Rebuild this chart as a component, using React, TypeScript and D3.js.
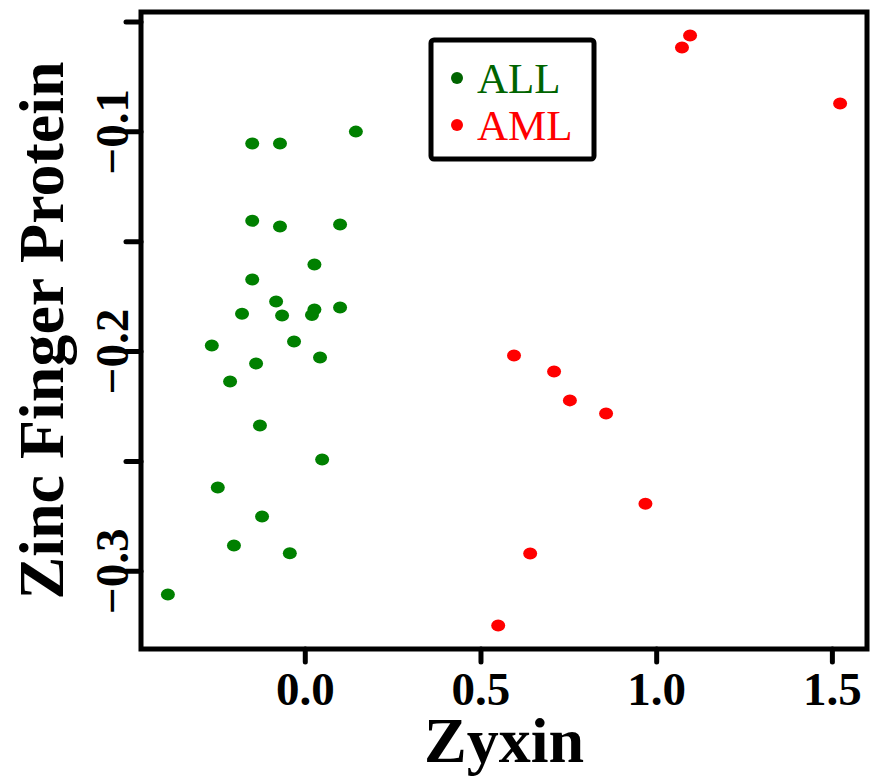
import React, { useEffect, useRef } from 'react';
import * as d3 from 'd3';

// Zyxin vs Zinc Finger Protein expression, two leukemia classes
const allZyxin = [
  -0.151, -0.072, 0.144, -0.151, -0.072, 0.099, 0.026, -0.151, -0.083, -0.18,
  -0.066, 0.026, 0.019, 0.099, -0.032, -0.266, 0.042, -0.14, -0.214, -0.129,
  0.048, -0.249, -0.123, -0.203, -0.044, -0.391,
];
const allZinc = [
  -0.1053, -0.1053, -0.0999, -0.1405, -0.1431, -0.1422, -0.1604, -0.1672, -0.1772, -0.1828,
  -0.1836, -0.1808, -0.1833, -0.1799, -0.1954, -0.1972, -0.2027, -0.2054, -0.2136, -0.2336,
  -0.2491, -0.2618, -0.275, -0.2882, -0.2918, -0.3105,
];
const amlZyxin = [1.095, 1.072, 1.522, 0.594, 0.708, 0.753, 0.856, 0.968, 0.64, 0.549];
const amlZinc = [-0.0562, -0.0616, -0.0871, -0.2018, -0.2091, -0.2222, -0.2282, -0.2692, -0.2919, -0.3246];

const groups = ['ALL', 'AML'];
const xTicks = [0, 0.5, 1.0, 1.5];
const yTicks = [-0.3, -0.25, -0.2, -0.15, -0.1, -0.05];
const yTickLabels = [-0.3, -0.2, -0.1];

const pointColor: Record<string, string> = { ALL: '#008000', AML: '#ff0000' };
const legendColor: Record<string, string> = { ALL: '#006400', AML: '#ff0000' };

const App = () => {
  const ref = useRef<SVGSVGElement | null>(null);

  useEffect(() => {
    const svg = d3.select(ref.current);
    svg.selectAll('*').remove();

    const points = [
      ...allZyxin.map((v, i) => ({ x: v, y: allZinc[i], g: 'ALL' })),
      ...amlZyxin.map((v, i) => ({ x: v, y: amlZinc[i], g: 'AML' })),
    ];

    // R style 4% extension of data range
    const pad = (ext: [number, number]) => {
      const d = (ext[1] - ext[0]) * 0.04;
      return [ext[0] - d, ext[1] + d];
    };
    const xExt = d3.extent(points, d => d.x) as [number, number];
    const yExt = d3.extent(points, d => d.y) as [number, number];

    const left = 141, right = 867, top = 12, bottom = 649;
    const x = d3.scaleLinear().domain(pad(xExt)).range([left, right]);
    const y = d3.scaleLinear().domain(pad(yExt)).range([bottom, top]);

    const font = '"Liberation Serif", "Times New Roman", serif';

    // points
    svg.append('g')
      .selectAll('ellipse')
      .data(points)
      .enter().append('ellipse')
      .attr('cx', d => x(d.x))
      .attr('cy', d => y(d.y))
      .attr('rx', 7)
      .attr('ry', 6)
      .attr('fill', d => pointColor[d.g]);

    // frame
    svg.append('rect')
      .attr('x', left)
      .attr('y', top)
      .attr('width', right - left)
      .attr('height', bottom - top)
      .attr('fill', 'none')
      .attr('stroke', '#000')
      .attr('stroke-width', 5);

    // x axis
    const xa = svg.append('g');
    xa.selectAll('line')
      .data(xTicks)
      .enter().append('line')
      .attr('x1', d => x(d)).attr('x2', d => x(d))
      .attr('y1', bottom).attr('y2', bottom + 13)
      .attr('stroke', '#000').attr('stroke-width', 5).attr('stroke-linecap', 'round');
    xa.selectAll('text')
      .data(xTicks)
      .enter().append('text')
      .attr('x', d => x(d))
      .attr('y', 705)
      .attr('text-anchor', 'middle')
      .style('font-family', font)
      .style('font-weight', 'bold')
      .style('font-size', '47px')
      .text(d => d3.format('.1f')(d));

    // y axis
    const ya = svg.append('g');
    ya.selectAll('line')
      .data(yTicks)
      .enter().append('line')
      .attr('x1', left - 15).attr('x2', left)
      .attr('y1', d => y(d)).attr('y2', d => y(d))
      .attr('stroke', '#000').attr('stroke-width', 5).attr('stroke-linecap', 'round');
    ya.selectAll('text')
      .data(yTickLabels)
      .enter().append('text')
      .attr('transform', d => `translate(128, ${y(d)}) rotate(-90)`)
      .attr('text-anchor', 'middle')
      .style('font-family', font)
      .style('font-weight', 'bold')
      .style('font-size', '47px')
      .text(d => d3.format('.1f')(d));

    // titles
    svg.append('text')
      .attr('x', (left + right) / 2)
      .attr('y', 762)
      .attr('text-anchor', 'middle')
      .style('font-family', font)
      .style('font-weight', 'bold')
      .style('font-size', '64px')
      .text('Zyxin');

    svg.append('text')
      .attr('transform', `translate(63, ${(top + bottom) / 2}) rotate(-90)`)
      .attr('text-anchor', 'middle')
      .style('font-family', font)
      .style('font-weight', 'bold')
      .style('font-size', '64px')
      .text('Zinc Finger Protein');

    // legend
    const lg = svg.append('g');
    lg.append('rect')
      .attr('x', 431).attr('y', 40)
      .attr('width', 163).attr('height', 119)
      .attr('rx', 3)
      .attr('fill', '#fff')
      .attr('stroke', '#000')
      .attr('stroke-width', 5);
    const items = lg.selectAll('g')
      .data(groups)
      .enter().append('g')
      .attr('transform', (d, i) => `translate(0, ${i * 47})`);
    items.append('circle')
      .attr('cx', 457)
      .attr('cy', 78)
      .attr('r', 6)
      .attr('fill', d => legendColor[d]);
    items.append('text')
      .attr('x', 477)
      .attr('y', 93)
      .style('font-family', font)
      .style('font-size', '43px')
      .attr('fill', d => legendColor[d])
      .text(d => d);
  }, []);

  return (
    <svg
      ref={ref}
      width={879}
      height={777}
      style={{ position: 'absolute', left: 0, top: 0, background: '#fff' }}
    />
  );
};

export default App;
